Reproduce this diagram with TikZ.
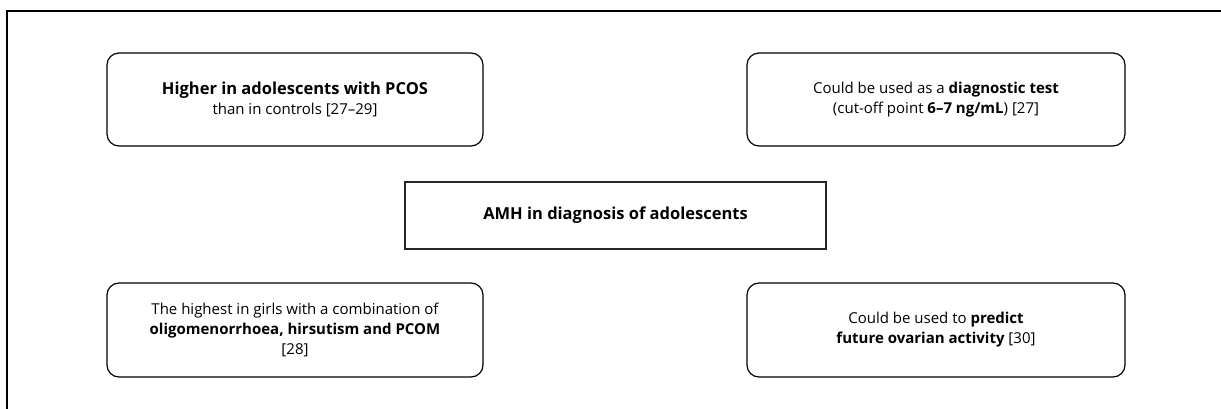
\documentclass[tikz,border=0pt]{standalone}
\usepackage{fontspec}
\setmainfont{Open Sans}
\begin{document}
\begin{tikzpicture}[x=1pt,y=-1pt,
  rbox/.style={draw=black, line width=1.2pt, rounded corners=12pt, align=center, inner sep=0pt,
    font=\fontsize{15}{20}\selectfont},
  sbox/.style={draw=black!85, line width=1.6pt, align=center, inner sep=0pt,
    font=\fontsize{16.5}{20}\selectfont}]
\useasboundingbox (0,0) rectangle (1221,409);
\coordinate (fbl) at (7,409);
\coordinate (ftl) at (7,11);
\coordinate (ftr) at (1221,11);
\draw[line width=1.5pt] (fbl) -- (ftl) -- (ftr);
\node[rbox, minimum width=376pt, minimum height=93pt] (b1) at (295,99.5)
  {{\fontsize{16.5}{20}\selectfont\textbf{Higher in adolescents with PCOS}}\\than in controls [27--29]};
\node[rbox, minimum width=378pt, minimum height=93pt] (b2) at (936,99.5)
  {Could be used as a \textbf{diagnostic test}\\(cut-off point \textbf{6--7 ng/mL}) [27]};
\node[sbox, minimum width=421pt, minimum height=67pt] (c) at (615.5,215.5)
  {\textbf{AMH in diagnosis of adolescents}};
\node[rbox, minimum width=376pt, minimum height=94pt] (b3) at (295,330)
  {The highest in girls with a combination of\\\textbf{oligomenorrhoea, hirsutism and PCOM}\\{}[28]};
\node[rbox, minimum width=378pt, minimum height=94pt] (b4) at (936,330)
  {Could be used to \textbf{predict}\\\textbf{future ovarian activity} [30]};
\end{tikzpicture}
\end{document}
